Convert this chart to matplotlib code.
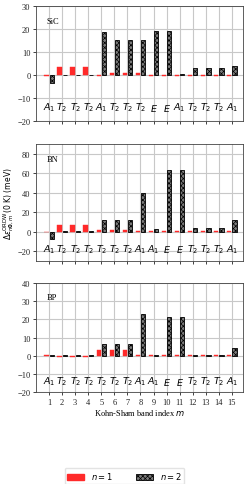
import matplotlib
matplotlib.use("Agg")
import matplotlib.pyplot as plt
import numpy as np
from matplotlib.patches import Patch

bands = list(range(1, 16))

sic_labels = ["A_1", "T_2", "T_2", "T_2", "A_1", "T_2", "T_2", "T_2", "E", "E", "A_1", "T_2", "T_2", "T_2", "A_1"]
sic_n1 = [-0.3, 3.5, 3.5, 3.5, -0.3, 1.0, 1.0, 1.0, -0.3, -0.3, -0.3, -0.3, -0.3, -0.3, -0.3]
sic_n2 = [-3.5, -0.2, -0.2, -0.2, 18.7, 15.3, 15.3, 15.3, 19.2, 19.2, 0.5, 3.2, 3.2, 3.2, 4.0]

bn_labels = ["A_1", "T_2", "T_2", "T_2", "T_2", "T_2", "T_2", "A_1", "A_1", "E", "E", "T_2", "T_2", "T_2", "A_1"]
bn_n1 = [-0.3, 6.8, 6.8, 6.8, 1.5, 1.5, 1.5, 0.3, 0.3, 0.3, 0.3, 0.3, 0.3, 0.3, 0.3]
bn_n2 = [-7.5, 0.3, 0.3, 0.3, 12.5, 12.5, 12.5, 40.0, 2.5, 63.5, 63.5, 4.0, 4.0, 4.0, 12.5]

bp_labels = ["A_1", "T_2", "T_2", "T_2", "T_2", "T_2", "T_2", "A_1", "A_1", "E", "E", "T_2", "T_2", "T_2", "A_1"]
bp_n1 = [0.2, -0.5, -0.5, -0.5, 3.0, 3.0, 3.0, 0.2, 0.2, 0.2, 0.2, 0.2, 0.2, 0.2, 0.2]
bp_n2 = [0.3, 0.1, 0.1, 0.1, 6.5, 6.5, 6.5, 23.0, 0.5, 21.5, 21.5, 0.5, 0.5, 0.5, 4.2]

panels = [
    ("SiC", sic_labels, sic_n1, sic_n2, (-20, 30), [-20, -10, 0, 10, 20, 30], -14),
    ("BN", bn_labels, bn_n1, bn_n2, (-30, 90), [-20, 0, 20, 40, 60, 80], -17),
    ("BP", bp_labels, bp_n1, bp_n2, (-20, 40), [-20, -10, 0, 10, 20, 30, 40], -14),
]

plt.rcParams['hatch.linewidth'] = 0.5
W, H = 249, 485
fig = plt.figure(figsize=(W / 100, H / 100), dpi=100)

boxes = [(7, 122), (145, 262), (284, 393)]
left, right = 36, 243
x = np.array(bands, dtype=float)
w = 0.33
serif = "Liberation Serif"
RED = "#ff2a2a"
GRAY = "#7a7a7a"
HATCH = "xxxxxxx"
axes = []
for (name, labs, n1, n2, ylim, yt, ly), (t, b) in zip(panels, boxes):
    ax = fig.add_axes([left / W, 1 - b / H, (right - left) / W, (b - t) / H])
    axes.append(ax)
    ax.set_axisbelow(True)
    ax.grid(True, color="#c8c8c8", linewidth=0.8)
    ax.bar(x - 0.2, n1, width=w, color=RED, edgecolor=RED, linewidth=0.3)
    ax.bar(x + 0.2, n2, width=w, color=GRAY, edgecolor="black", hatch=HATCH, linewidth=0.6)
    ax.set_xlim(0, 15.85)
    ax.set_ylim(*ylim)
    ax.set_yticks(yt)
    ax.set_xticks(bands)
    for xi, lab in zip(bands, labs):
        ax.text(xi, ly, "$" + lab + "$", ha="center", va="center", fontsize=6.8)
    ax.text(0.05, 0.87, name, transform=ax.transAxes, fontsize=6, family=serif, va="center")
    ax.tick_params(labelsize=6, length=2.5, width=0.6, pad=1.5, colors="#222222")
    for lab in ax.get_yticklabels() + ax.get_xticklabels():
        lab.set_family(serif)
    for s in ax.spines.values():
        s.set_linewidth(0.6)
        s.set_color("#444444")
    if name != "BP":
        ax.tick_params(labelbottom=False)

axes[2].set_xlabel("Kohn-Sham band index $m$", fontsize=6, family=serif, labelpad=1)
axes[1].set_ylabel(r"$\Delta\varepsilon^{\rm ORDW}_{n\mathbf{0},m}$(0 K) (meV)", fontsize=5.5, labelpad=1)

handles = [Patch(facecolor=RED, edgecolor=RED, label="$n = 1$"),
           Patch(facecolor=GRAY, edgecolor="black", hatch=HATCH, linewidth=0.6, label="$n = 2$")]
fig.legend(handles=handles, loc="center", bbox_to_anchor=(0.5, 1 - 477 / H), ncol=2,
           fontsize=6, frameon=True, handlelength=2.0, handleheight=0.7, columnspacing=2.8,
           borderpad=0.35, edgecolor="#dddddd", fancybox=True)

fig.savefig("out.png", dpi=100)
